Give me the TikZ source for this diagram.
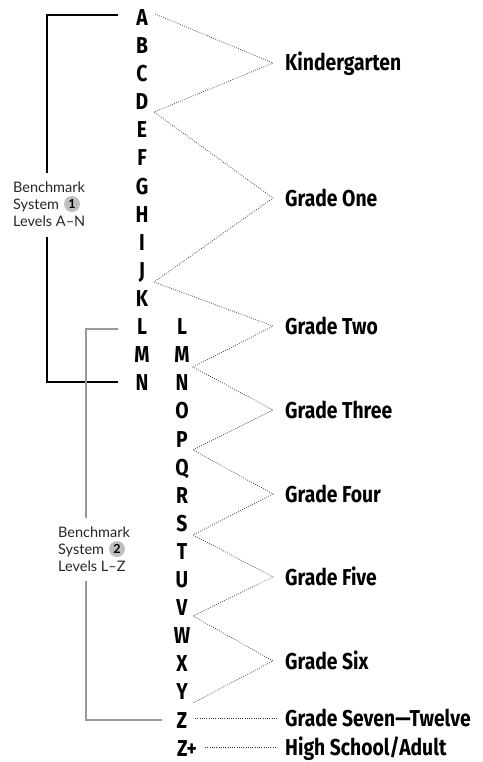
\documentclass[tikz,border=0pt]{standalone}
\usepackage{fontspec}
\setmainfont{Lato}
\newfontfamily\condbf[FakeStretch=0.84]{Fira Sans}
\tikzset{
  x=1pt, y=-1pt,
  letter/.style={anchor=base, inner sep=0pt, font=\condbf\bfseries\fontsize{23}{23}\selectfont},
  grade/.style={anchor=base west, inner sep=0pt, font=\condbf\bfseries\fontsize{23}{23}\selectfont},
  small/.style={anchor=base west, inner sep=0pt, font=\fontsize{14.5}{17}\selectfont, text=black!85},
  badge/.style={circle, fill=black!25, minimum size=16pt, inner sep=0pt, font=\bfseries\fontsize{12.5}{12.5}\selectfont},
  dotline/.style={line width=0.75pt, black!80, dash pattern=on 0.75pt off 1.5pt},
  bkt/.style={line width=2pt, black},
  gbkt/.style={line width=2pt, black!40},
}
\begin{document}
\begin{tikzpicture}
\useasboundingbox (0,0) rectangle (482,762);
% letters column 1
\foreach \l [count=\i from 0] in {A,B,C,D,E,F,G,H,I,J,K,L,M,N}
  \node[letter] (c1\l) at (142,{25.5+28.1*\i}) {\l};
% letters column 2
\foreach \l [count=\i from 11] in {L,M,N,O,P,Q,R,S,T,U,V,W,X,Y,Z}
  \node[letter] (c2\l) at (182,{25.5+28.1*\i}) {\l};
\node[letter, anchor=base west] (c2Zp) at (177,{25.5+28.1*26}) {Z+};

% grades
\node[grade] (g0) at (285,71) {Kindergarten};
\node[grade] (g1) at (285,206) {Grade One};
\node[grade] (g2) at (285,334) {Grade Two};
\node[grade] (g3) at (285,418) {Grade Three};
\node[grade] (g4) at (285,502) {Grade Four};
\node[grade] (g5) at (285,585) {Grade Five};
\node[grade] (g6) at (285,669) {Grade Six};
\node[grade] (g7) at (285,726) {Grade Seven—Twelve};
\node[grade] (g8) at (285,755) {High School/Adult};

% vertices
\coordinate (vA) at (155,14);
\coordinate (vD) at (154,112);
\coordinate (vJ) at (154,282);
\coordinate (vM) at (193,367);
\coordinate (vP) at (193,450);
\coordinate (vS) at (193,535);
\coordinate (vV) at (193,616);
\coordinate (vY) at (193,703);
\coordinate (a0) at (273,63);
\coordinate (a1) at (273,198);
\coordinate (a2) at (273,326);
\coordinate (a3) at (273,410);
\coordinate (a4) at (273,494);
\coordinate (a5) at (273,577);
\coordinate (a6) at (273,661);
\coordinate (zs) at (195,718);
\coordinate (ze) at (277,718);
\coordinate (zps) at (205,747);
\coordinate (zpe) at (277,747);

\draw[dotline] (vA) -- (a0) -- (vD) -- (a1) -- (vJ) -- (a2) -- (vM) -- (a3) -- (vP) -- (a4) -- (vS) -- (a5) -- (vV) -- (a6) -- (vY);
\draw[dotline] (zs) -- (ze);
\draw[dotline] (zps) -- (zpe);

% black bracket
\coordinate (b1) at (118,15);
\coordinate (b2) at (47,15);
\coordinate (b3) at (47,173);
\coordinate (b4) at (47,237);
\coordinate (b5) at (47,382);
\coordinate (b6) at (118,382);
\draw[bkt] (b1) -- (b2) -- (b3);
\draw[bkt] (b4) -- (b5) -- (b6);

% gray bracket
\coordinate (h1) at (118,329);
\coordinate (h2) at (86,329);
\coordinate (h3) at (86,518);
\coordinate (h4) at (86,581);
\coordinate (h5) at (86,720);
\coordinate (h6) at (162,720);
\draw[gbkt] (h1) -- (h2) -- (h3);
\draw[gbkt] (h4) -- (h5) -- (h6);

% label 1
\node[small] (t1a) at (13,192) {Benchmark};
\node[small] (t1b) at (13,209) {System};
\node[badge] (k1) at (72,204) {1};
\node[small] (t1c) at (13,226) {Levels A–N};
% label 2
\node[small] (t2a) at (58,537) {Benchmark};
\node[small] (t2b) at (58,554) {System};
\node[badge] (k2) at (117,549) {2};
\node[small] (t2c) at (58,571) {Levels L–Z};
\end{tikzpicture}
\end{document}
